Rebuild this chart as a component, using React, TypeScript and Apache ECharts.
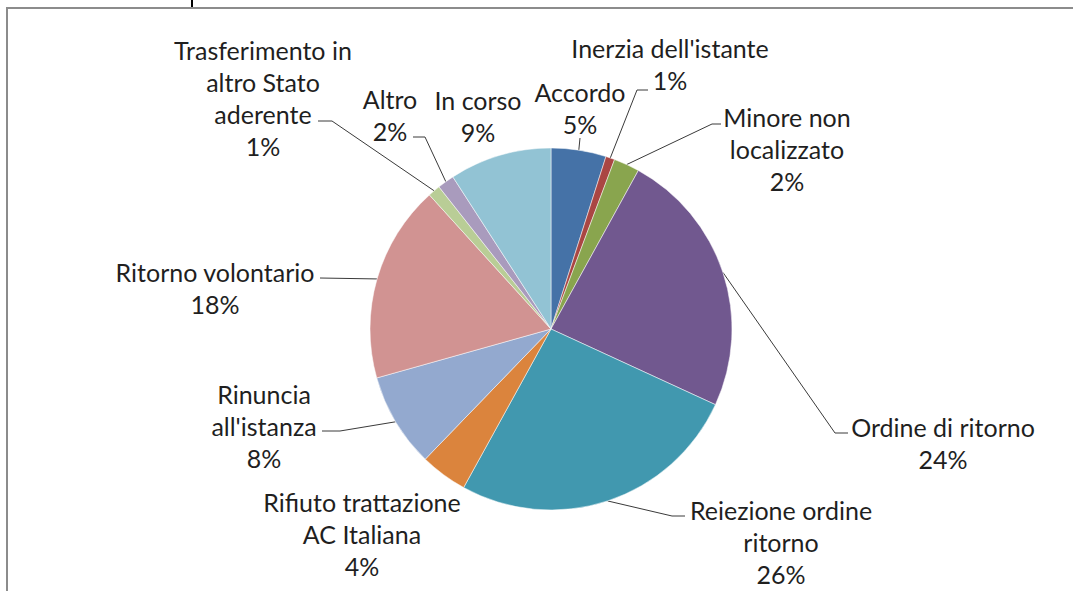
import React, { useEffect, useRef } from "react";
import * as echarts from "echarts";

const categories = [
  "Accordo",
  "Inerzia dell'istante",
  "Minore non\nlocalizzato",
  "Ordine di ritorno",
  "Reiezione ordine\nritorno",
  "Rifiuto trattazione\nAC Italiana",
  "Rinuncia\nall'istanza",
  "Ritorno volontario",
  "Trasferimento in\naltro Stato\naderente",
  "Altro",
  "In corso",
];
const values = [4.9, 0.8, 2.3, 23.8, 26.1, 4.2, 8.4, 17.6, 1.1, 1.5, 9.1];
const colors = [
  "#4572A7", "#AA4643", "#89A54E", "#71588F", "#4198AF", "#DB843D",
  "#93A9CF", "#D19392", "#B9CD96", "#A99BBD", "#92C3D4",
];
const showLeader = [true, true, true, true, true, false, true, true, true, true, false];

// label placement (layout only): centre x, first-line centre y, leader elbow & end
const LH = 32;
const labelPos: { x: number; y: number; line?: number[][] }[] = [
  { x: 580, y: 92, line: [[580, 138], [580, 138]] },
  { x: 670, y: 48, line: [[637, 90], [648, 90]] },
  { x: 787, y: 117, line: [[712, 124], [721, 124]] },
  { x: 943, y: 427, line: [[835, 433], [848, 433]] },
  { x: 781, y: 510, line: [[672, 516], [685, 516]] },
  { x: 362, y: 502 },
  { x: 264, y: 394, line: [[340, 431], [322, 431]] },
  { x: 215, y: 272, line: [[320, 278], [320, 278]] },
  { x: 263, y: 50, line: [[332, 121], [318, 121]] },
  { x: 390, y: 99, line: [[425, 137], [413, 137]] },
  { x: 478, y: 100 },
];

export default function App() {
  const ref = useRef<HTMLDivElement>(null);
  useEffect(() => {
    if (!ref.current) return;
    const chart = echarts.init(ref.current, undefined, { renderer: "svg" });
    const CX = 551, CY = 329, R = 181;
    const total = values.reduce((a, b) => a + b, 0);
    const mids: number[] = [];
    let acc = 0;
    values.forEach((v) => {
      mids.push(((acc + v / 2) / total) * Math.PI * 2);
      acc += v;
    });
    chart.setOption({
      animation: false,
      backgroundColor: "#ffffff",
      textStyle: { fontFamily: "Lato" },
      graphic: [
        {
          type: "polyline",
          shape: { points: [[7, 591], [7, 8], [1073, 8]] },
          style: { stroke: "#8c8c8c", lineWidth: 2, fill: null },
          silent: true,
        },
        {
          type: "line",
          shape: { x1: 192, y1: 0, x2: 192, y2: 7 },
          style: { stroke: "#000", lineWidth: 2 },
          silent: true,
        },
      ],
      series: [
        {
          type: "pie",
          center: [CX, CY],
          radius: [0, R],
          startAngle: 90,
          clockwise: true,
          avoidLabelOverlap: false,
          itemStyle: { borderColor: "#ffffff", borderWidth: 0.5 },
          label: {
            show: true,
            position: "outside",
            formatter: (p: any) => p.name + "\n" + Math.round(p.percent) + "%",
            fontFamily: "Lato",
            fontSize: 25,
            lineHeight: LH,
            color: "#1f1f1f",
            align: "center",
          },
          labelLine: {
            show: true,
            lineStyle: { color: "#3a3a3a", width: 1 },
          },
          labelLayout: (params: any) => {
            const i = params.dataIndex;
            const lp = labelPos[i];
            const out: any = {
              x: lp.x,
              y: lp.y - LH / 2,
              align: "center",
              verticalAlign: "top",
            };
            if (lp.line) {
              const a = mids[i];
              const start = [CX + R * Math.sin(a), CY - R * Math.cos(a)];
              out.labelLinePoints = [start, lp.line[0], lp.line[1]];
            }
            return out;
          },
          data: categories.map((c, i) => ({
            name: c,
            value: values[i],
            itemStyle: { color: colors[i] },
            labelLine: { show: showLeader[i] },
          })),
        },
      ],
    });
    return () => chart.dispose();
  }, []);
  return (
    <div
      ref={ref}
      style={{ position: "fixed", left: 0, top: 0, width: 1073, height: 591 }}
    />
  );
}
